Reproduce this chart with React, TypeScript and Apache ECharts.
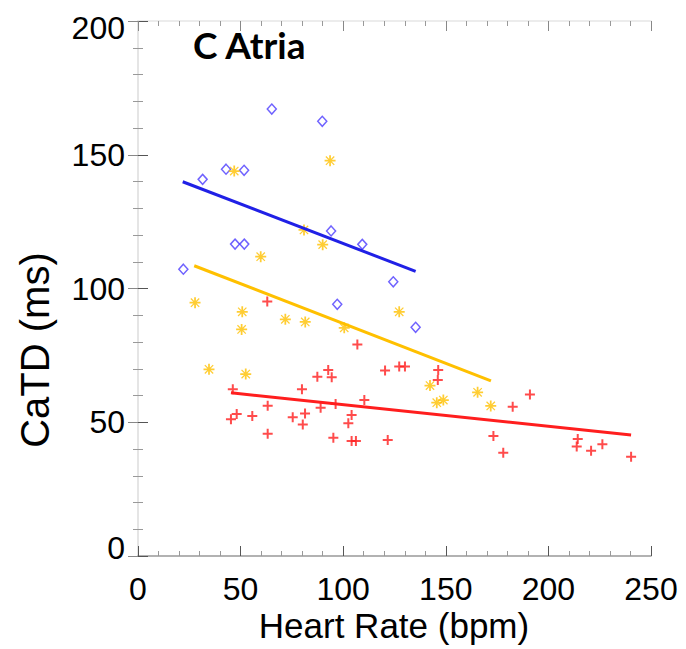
import React, { useEffect, useRef } from "react";
import * as echarts from "echarts";

// Blue diamonds
const blueHR = [22.1, 31.5, 42.9, 51.7, 47.3, 51.8, 65.2, 89.8, 94.1, 109.3, 97.1, 124.4, 135.3];
const blueCaTD = [107.2, 140.8, 144.6, 144.2, 116.6, 116.6, 167.1, 162.5, 121.5, 116.5, 94.1, 102.5, 85.5];
// Orange stars
const orangeHR = [46.9, 93.6, 80.9, 90.0, 59.8, 27.8, 50.8, 50.5, 71.8, 81.5, 100.5, 127.3, 34.6, 52.5, 142.3, 145.6, 148.8, 165.5, 171.9];
const orangeCaTD = [143.9, 147.8, 121.9, 116.4, 111.9, 94.7, 91.3, 84.7, 88.5, 87.5, 85.3, 91.3, 69.8, 68.0, 63.7, 57.3, 58.3, 61.2, 56.1];
// Red crosses
const redHR = [63.0, 106.9, 92.7, 87.4, 94.4, 120.4, 127.3, 130.1, 46.2, 79.9, 63.2, 89.0, 96.3, 110.3, 48.1, 45.3, 55.7, 75.4, 81.4, 80.3, 104.1, 102.5, 63.2, 95.2, 104.1, 106.2, 121.7, 146.3, 146.1, 191.0, 182.6, 173.2, 178.0, 214.3, 213.8, 220.8, 226.3, 240.3];
const redCaTD = [95.1, 79.1, 69.5, 67.0, 66.8, 69.3, 70.8, 70.8, 62.3, 62.3, 56.2, 55.4, 56.8, 58.3, 53.1, 51.1, 52.3, 51.9, 53.3, 49.2, 52.7, 49.6, 45.7, 44.2, 43.0, 43.0, 43.4, 69.5, 65.8, 60.4, 55.8, 44.9, 38.6, 43.7, 40.9, 39.3, 41.8, 37.1];
// Regression lines (end points)
const blueFitHR = [21.8, 135.3];
const blueFitCaTD = [139.9, 106.4];
const orangeFitHR = [27.4, 172.0];
const orangeFitCaTD = [108.5, 65.5];
const redFitHR = [45.3, 240.3];
const redFitCaTD = [61.0, 45.2];

const xTicks = [0, 50, 100, 150, 200, 250];
const yTicks = [0, 50, 100, 150, 200];
const titleText = "C Atria";
const xName = "Heart Rate (bpm)";
const yName = "CaTD (ms)";

const zip = (a: number[], b: number[]) => a.map((v, i) => [v, b[i]]);

const PLUS = "path://M4,0H6V4H10V6H6V10H4V6H0V4H4Z";
const STAR =
  "path://M4.2,0H5.8V4.2H10V5.8H5.8V10H4.2V5.8H0V4.2H4.2Z M0.8,1.6L1.6,0.8L9.2,8.4L8.4,9.2Z M8.4,0.8L9.2,1.6L1.6,9.2L0.8,8.4Z";

const BLUE_PT = "#4b3bff";
const BLUE_LN = "#2020e6";
const ORANGE = "#ffc000";
const RED = "#ff1e1e";

const labelFont = "'Liberation Sans', Arial, sans-serif";

export default function App() {
  const ref = useRef<HTMLDivElement>(null);
  useEffect(() => {
    document.body.style.margin = "0";
    if (!ref.current) return;
    const chart = echarts.init(ref.current, null, { renderer: "svg" });
    const axisCommonTick = {
      show: true,
      inside: true,
      length: 10,
      lineStyle: { color: "#555", width: 1 },
    };
    const minor = {
      show: true,
      splitNumber: 5,
      length: 5,
      lineStyle: { color: "#999", width: 1 },
    };
    chart.setOption({
      animation: false,
      backgroundColor: "#ffffff",
      grid: { left: 138, top: 21, width: 513, height: 535, containLabel: false },
      xAxis: [
        {
          type: "value",
          min: 0,
          max: 250,
          interval: 50,
          position: "bottom",
          axisLine: { show: true, lineStyle: { color: "#999", width: 1.5 } },
          axisTick: axisCommonTick,
          minorTick: minor,
          splitLine: { show: false },
          axisLabel: {
            margin: 17,
            fontSize: 32,
            color: "#000",
            fontFamily: labelFont,
            formatter: (v: number) => (xTicks.includes(v) ? String(v) : ""),
          },
        },
        {
          type: "value",
          min: 0,
          max: 250,
          interval: 50,
          position: "top",
          axisLine: { show: true, onZero: false, lineStyle: { color: "#e6e6e6", width: 1.5 } },
          axisTick: { ...axisCommonTick, lineStyle: { color: "#888", width: 1 } },
          minorTick: minor,
          splitLine: { show: false },
          axisLabel: { show: false },
        },
      ],
      yAxis: [
        {
          type: "value",
          min: 0,
          max: 200,
          interval: 50,
          position: "left",
          axisLine: { show: true, lineStyle: { color: "#dcdcdc", width: 1.5 } },
          axisTick: axisCommonTick,
          minorTick: minor,
          splitLine: { show: false },
          axisLabel: {
            margin: 13,
            fontSize: 32,
            color: "#000",
            fontFamily: labelFont,
            formatter: (v: number) => {
              if (!yTicks.includes(v)) return "";
              if (v === 0) return "{lo|0}";
              if (v === 200) return "{hi|200}";
              return String(v);
            },
            rich: {
              lo: { fontSize: 32, fontFamily: labelFont, color: "#000", padding: [0, 0, 16, 0] },
              hi: { fontSize: 32, fontFamily: labelFont, color: "#000", padding: [14, 0, 0, 0] },
            },
          },
        },
        {
          type: "value",
          min: 0,
          max: 200,
          interval: 50,
          position: "right",
          axisLine: { show: false },
          axisTick: { ...axisCommonTick, lineStyle: { color: "#888", width: 1 } },
          minorTick: minor,
          splitLine: { show: false },
          axisLabel: { show: false },
        },
      ],
      graphic: [
        {
          type: "text",
          left: 193,
          top: 26,
          style: {
            text: titleText,
            font: "bold 37px Lato, 'Open Sans', sans-serif",
            fill: "#000",
          },
        },
        {
          type: "text",
          x: 35,
          y: 350,
          rotation: Math.PI / 2,
          style: {
            text: yName,
            font: "40px 'Liberation Sans', Arial, sans-serif",
            fill: "#000",
            align: "center",
            verticalAlign: "middle",
          },
        },
        {
          type: "text",
          x: 394,
          y: 625,
          style: {
            text: xName,
            font: "35px 'Liberation Sans', Arial, sans-serif",
            fill: "#000",
            align: "center",
            verticalAlign: "middle",
          },
        },
      ],
      series: [
        {
          type: "scatter",
          name: "blue",
          data: zip(blueHR, blueCaTD),
          symbol: "diamond",
          symbolSize: [9, 10],
          itemStyle: { color: "rgba(255,255,255,0)", borderColor: BLUE_PT, borderWidth: 1.5 },
          z: 3,
        },
        {
          type: "scatter",
          name: "orange",
          data: zip(orangeHR, orangeCaTD),
          symbol: STAR,
          symbolSize: 11,
          itemStyle: { color: ORANGE },
          z: 3,
        },
        {
          type: "scatter",
          name: "red",
          data: zip(redHR, redCaTD),
          symbol: PLUS,
          symbolSize: 10,
          itemStyle: { color: RED },
          z: 3,
        },
        {
          type: "line",
          data: zip(blueFitHR, blueFitCaTD),
          showSymbol: false,
          symbol: "none",
          lineStyle: { color: BLUE_LN, width: 3 },
          z: 4,
        },
        {
          type: "line",
          data: zip(orangeFitHR, orangeFitCaTD),
          showSymbol: false,
          symbol: "none",
          lineStyle: { color: ORANGE, width: 3 },
          z: 4,
        },
        {
          type: "line",
          data: zip(redFitHR, redFitCaTD),
          showSymbol: false,
          symbol: "none",
          lineStyle: { color: RED, width: 3 },
          z: 4,
        },
      ],
    });
    return () => chart.dispose();
  }, []);
  return <div ref={ref} style={{ width: 686, height: 649 }} />;
}
